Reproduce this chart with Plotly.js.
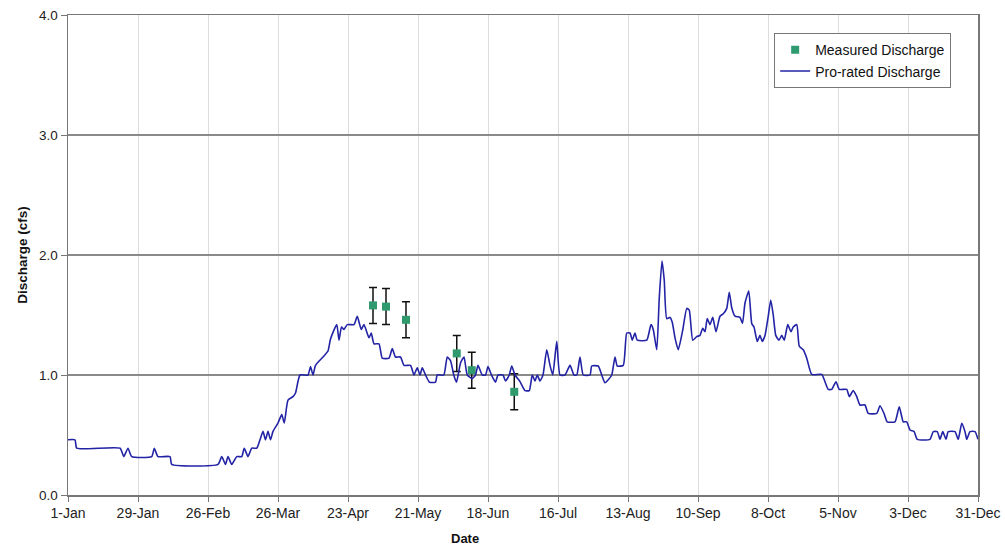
<!DOCTYPE html>
<html>
<head>
<meta charset="utf-8">
<script src="https://cdn.plot.ly/plotly-3.0.1.min.js"></script>
<style>html,body{margin:0;padding:0;background:#fff;}#chart{width:1005px;height:546px;}</style>
</head>
<body>
<div id="chart"></div>
<script>
// Tick positions (day of year, 0 = 1-Jan) and labels
const tickDays = [0, 28, 56, 84, 112, 140, 168, 196, 224, 252, 280, 308, 336, 364];
const tickLabels = ['1-Jan','29-Jan','26-Feb','26-Mar','23-Apr','21-May','18-Jun','16-Jul','13-Aug','10-Sep','8-Oct','5-Nov','3-Dec','31-Dec'];

// Pro-rated discharge (day of year, cfs)
const proDays = [0,2.8,3.5,20.8,22.3,24,25.5,33.5,34.5,36,40.8,41.5,60,61.5,63,64,65.5,67.5,69.5,70.5,72,73.5,75.5,76.8,78,79,80,81,82,84,85.5,86.5,88,90,91,92.8,96,97,98,99,102,104,105,107.5,108.4,109.4,110.4,111.7,114.4,115.7,117.3,118.4,120.4,121.3,122.4,124.4,125.7,128.4,129.7,131,133,134.4,137,138.4,139.7,140.8,141.7,143,144.6,147,147.7,150.3,151.7,153,154.3,155.4,157,158.4,159.7,161.7,163,164,165.7,167,168,169.4,171,172,174,175,176.5,177.5,178.8,180.8,182.8,184.5,185.7,186.8,187.7,188.8,190,191.5,192.8,193.9,195.5,196.8,198.8,200.8,202.4,203.5,204.8,206.1,208.8,209.5,212.1,213.5,214.8,216.1,217.5,218.8,219.7,222.1,223.5,224.8,225.7,226.8,227.7,231.5,233.2,234.1,235.5,236.5,237.6,238.5,239.5,240.8,241.7,242.8,244.1,245.9,247.5,248.5,249.9,251.5,252.8,253.9,254.8,255.7,256.8,257.9,259.2,260.8,262.1,263.5,264.5,265.5,266.8,268.8,269.8,270.8,272.3,273.5,274.4,275.7,276.8,277.7,278.8,280.1,281.1,282.1,283.1,284.4,285.5,286.5,287.9,289.2,290.1,291.5,292.5,294.1,295.5,297.5,301.5,302.8,304.1,305.5,307.2,308.5,311.5,312.5,314.1,315.5,316.8,318.8,320.1,323.5,324.8,326.4,327.7,330.8,332.5,334.1,335.5,336.8,338.4,339.7,344.8,346.1,347.7,348.8,349.9,351.2,352.1,354.8,356.1,357.5,358.8,359.5,360.8,362.8,364];
const proValues = [0.46,0.46,0.39,0.39,0.32,0.39,0.32,0.32,0.39,0.32,0.32,0.255,0.255,0.32,0.255,0.32,0.255,0.32,0.32,0.39,0.32,0.39,0.39,0.46,0.53,0.46,0.53,0.46,0.53,0.60,0.67,0.60,0.79,0.82,0.85,1.0,1.0,1.07,1.0,1.08,1.15,1.2,1.3,1.42,1.29,1.40,1.38,1.42,1.42,1.49,1.38,1.42,1.31,1.35,1.26,1.26,1.14,1.14,1.22,1.15,1.15,1.08,1.08,1.0,1.06,1.0,1.06,1.0,0.94,0.94,1.0,1.0,1.15,1.12,1.0,0.94,1.1,1.15,1.0,0.97,1.0,1.08,1.0,1.0,1.07,1.0,0.94,1.0,1.0,0.95,1.0,1.075,1.0,0.945,0.87,0.87,1.0,0.95,1.0,0.95,1.0,1.21,1.08,1.0,1.28,1.0,1.0,1.08,1.0,1.0,1.15,1.0,1.0,1.075,1.075,1.0,0.935,0.96,1.0,1.15,1.075,1.08,1.35,1.35,1.29,1.35,1.29,1.29,1.42,1.38,1.21,1.64,1.95,1.79,1.47,1.48,1.44,1.31,1.21,1.375,1.555,1.54,1.29,1.32,1.33,1.39,1.36,1.47,1.42,1.48,1.36,1.49,1.51,1.555,1.69,1.56,1.49,1.48,1.43,1.6,1.70,1.43,1.40,1.28,1.33,1.28,1.33,1.49,1.625,1.50,1.33,1.29,1.33,1.29,1.42,1.36,1.40,1.42,1.24,1.21,1.14,1.005,1.005,0.944,0.88,0.88,0.944,0.88,0.88,0.82,0.87,0.82,0.75,0.75,0.68,0.68,0.744,0.68,0.61,0.61,0.736,0.61,0.61,0.542,0.53,0.464,0.464,0.528,0.528,0.464,0.528,0.464,0.528,0.528,0.464,0.597,0.528,0.464,0.528,0.528,0.464];

// Measured discharge (day of year, cfs) and uncertainty
const measDays = [122, 127.2, 135.2, 155.5, 161.5, 178.5];
const measValues = [1.58, 1.57, 1.46, 1.18, 1.04, 0.86];
const measError = [0.15, 0.15, 0.15, 0.15, 0.15, 0.15];

const traces = [
  {
    x: measDays, y: measValues, type: 'scatter', mode: 'markers',
    name: 'Measured Discharge',
    marker: {symbol: 'square', size: 8, color: '#2e9a6e'},
    error_y: {type: 'data', array: measError, visible: true, color: '#111', thickness: 1.5, width: 4}
  },
  {
    x: proDays, y: proValues, type: 'scatter', mode: 'lines',
    name: 'Pro-rated Discharge',
    line: {color: '#2323a6', width: 1.6, shape: 'spline', smoothing: 0.5}
  }
];

const layout = {
  width: 1005, height: 546,
  margin: {l: 68, r: 27, t: 15, b: 51},
  paper_bgcolor: '#fff', plot_bgcolor: '#fff',
  font: {family: 'Arial, Liberation Sans, sans-serif', size: 12, color: '#222'},
  showlegend: true,
  legend: {
    x: 0.776, y: 0.962, xanchor: 'left', yanchor: 'top',
    bgcolor: '#fff', bordercolor: '#777', borderwidth: 1,
    font: {size: 14, color: '#111'}, traceorder: 'normal',
    tracegroupgap: 0, itemwidth: 30
  },
  xaxis: {
    range: [0, 364], tickmode: 'array', tickvals: tickDays, ticktext: tickLabels,
    showgrid: true, gridcolor: '#dcdcdc', gridwidth: 1,
    showline: true, linecolor: '#777', linewidth: 1.5, mirror: true,
    ticks: 'outside', ticklen: 5, tickcolor: '#777',
    zeroline: false, tickfont: {size: 14, color: '#222'}
  },
  yaxis: {
    range: [0, 4], dtick: 1, tick0: 0, tickformat: '.1f',
    showgrid: true, gridcolor: '#8a8a8a', gridwidth: 1.5,
    showline: true, linecolor: '#777', linewidth: 1.5, mirror: true,
    ticks: 'outside', ticklen: 6, tickcolor: '#777',
    zeroline: false, tickfont: {size: 13.5, color: '#222'},
    title: {text: '<b>Discharge (cfs)</b>', font: {size: 13.5, color: '#111'}, standoff: 8}
  },
  annotations: [{
    text: '<b>Date</b>', xref: 'paper', yref: 'paper',
    x: 0.436, y: 0, yshift: -43, showarrow: false,
    xanchor: 'center', yanchor: 'middle', font: {size: 13, color: '#111'}
  }]
};

Plotly.newPlot('chart', traces, layout, {displayModeBar: false, staticPlot: true});
</script>
</body>
</html>
